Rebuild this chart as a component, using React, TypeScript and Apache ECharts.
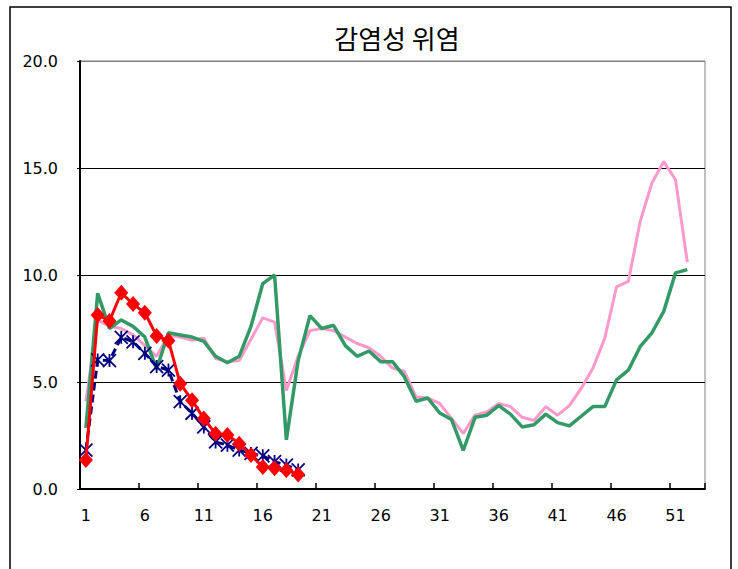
import React, { useEffect, useRef } from "react";
import * as echarts from "echarts";

const weeks = [
  "1","2","3","4","5","6","7","8","9","10","11","12","13","14","15","16","17","18","19","20",
  "21","22","23","24","25","26","27","28","29","30","31","32","33","34","35","36","37","38","39","40",
  "41","42","43","44","45","46","47","48","49","50","51","52","53",
];

const pinkSeries = [
  4.1, 7.9, 7.6, 7.5, 7.2, 6.7, 6.2, 7.2, 7.1, 6.95, 7.05, 6.1, 5.95, 6.0, 7.0, 8.0, 7.8, 4.6, 6.2, 7.4,
  7.5, 7.4, 7.1, 6.8, 6.6, 6.2, 5.65, 5.5, 4.3, 4.25, 4.0, 3.3, 2.6, 3.45, 3.6, 4.0, 3.85, 3.35, 3.2, 3.85,
  3.45, 3.9, 4.7, 5.65, 7.05, 9.45, 9.7, 12.5, 14.3, 15.3, 14.45, 10.6,
];

const greenSeries = [
  2.85, 9.15, 7.5, 7.9, 7.6, 7.1, 5.6, 7.3, 7.2, 7.1, 6.9, 6.2, 5.9, 6.2, 7.6, 9.6, 10.0, 2.3, 6.0, 8.1,
  7.5, 7.65, 6.7, 6.2, 6.45, 5.95, 5.95, 5.25, 4.1, 4.25, 3.55, 3.25, 1.8, 3.35, 3.45, 3.9, 3.5, 2.9, 3.0, 3.5,
  3.1, 2.95, 3.4, 3.85, 3.85, 5.1, 5.55, 6.65, 7.3, 8.3, 10.1, 10.25,
];

const navySeries = [
  1.82, 6.03, 6.0, 7.09, 6.88, 6.34, 5.72, 5.56, 4.08, 3.54, 2.9, 2.2, 2.05, 1.82, 1.66, 1.55, 1.28, 1.12, 0.89,
];

const redSeries = [
  1.36, 8.13, 7.85, 9.17, 8.64, 8.24, 7.15, 6.93, 4.92, 4.15, 3.3, 2.58, 2.52, 2.12, 1.59, 1.03, 0.97, 0.88, 0.68,
];

const yTicks = [0, 5, 10, 15, 20];

export default function App() {
  const ref = useRef<HTMLDivElement>(null);

  useEffect(() => {
    document.body.style.margin = "0";
    const chart = echarts.init(ref.current!, null, { renderer: "svg" });
    const labelFont = "DejaVu Sans";
    chart.setOption({
      animation: false,
      backgroundColor: "#ffffff",
      title: {
        text: "감염성 위염",
        left: 392,
        top: 19,
        textAlign: "center",
        textStyle: {
          fontFamily: "Noto Sans CJK KR",
          fontSize: 26,
          fontWeight: "normal",
          color: "#000000",
        },
      },
      graphic: [
        {
          type: "rect",
          shape: { x: 10, y: 7, width: 721, height: 620 },
          style: { fill: "none", stroke: "#000000", lineWidth: 1.5 },
          silent: true,
          z: -1,
        },
      ],
      grid: {
        left: 80,
        top: 61,
        right: 33,
        bottom: 80,
        show: true,
        borderColor: "#808080",
        borderWidth: 1,
        backgroundColor: "transparent",
      },
      xAxis: {
        type: "category",
        data: weeks,
        boundaryGap: true,
        axisLine: { show: true, lineStyle: { color: "#000000", width: 2 } },
        axisTick: {
          show: true,
          inside: true,
          length: 6,
          interval: 4,
          lineStyle: { color: "#000000", width: 1.5 },
        },
        axisLabel: {
          interval: 4,
          margin: 18,
          color: "#000000",
          fontFamily: labelFont,
          fontSize: 16,
        },
        splitLine: { show: false },
      },
      yAxis: {
        type: "value",
        min: yTicks[0],
        max: yTicks[yTicks.length - 1],
        interval: 5,
        axisLine: { show: true, lineStyle: { color: "#000000", width: 2 } },
        axisTick: { show: true, length: 3, lineStyle: { color: "#000000" } },
        axisLabel: {
          margin: 22,
          color: "#000000",
          fontFamily: labelFont,
          fontSize: 16,
          formatter: (v: number) => v.toFixed(1),
        },
        splitLine: {
          show: true,
          lineStyle: { color: ["#000000", "#000000", "#000000", "#000000", "#808080"], width: 1.2 },
        },
      },
      series: [
        {
          name: "pink",
          type: "line",
          data: pinkSeries,
          symbol: "none",
          lineStyle: { color: "#FF99CC", width: 3 },
          z: 2,
        },
        {
          name: "green",
          type: "line",
          data: greenSeries,
          symbol: "none",
          lineStyle: { color: "#339966", width: 3.5 },
          z: 3,
        },
        {
          name: "navy",
          type: "line",
          data: navySeries,
          showAllSymbol: true,
          symbol: "path://M0,0L12,12M12,0L0,12M6,0L6,12",
          symbolSize: 13,
          itemStyle: { color: "transparent", borderColor: "#000080", borderWidth: 1.8 },
          lineStyle: { color: "#000080", width: 3, type: [8, 4] },
          z: 4,
        },
        {
          name: "red",
          type: "line",
          data: redSeries,
          showAllSymbol: true,
          symbol: "diamond",
          symbolSize: [14, 16],
          itemStyle: { color: "#FF0000" },
          lineStyle: { color: "#FF0000", width: 3 },
          z: 5,
        },
      ],
    });
    return () => chart.dispose();
  }, []);

  return <div ref={ref} style={{ width: 738, height: 569 }} />;
}
